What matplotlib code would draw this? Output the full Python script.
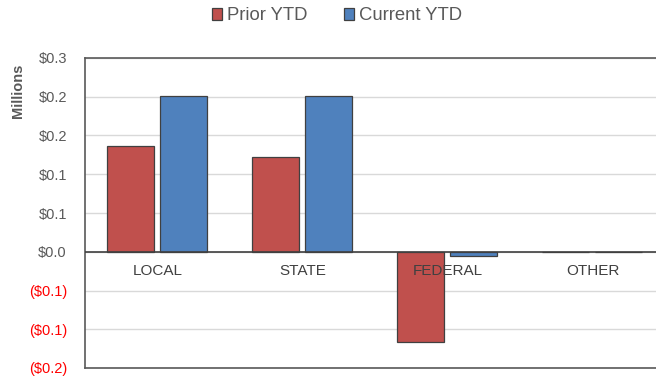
import numpy as np
import matplotlib.pyplot as plt
from matplotlib.ticker import FuncFormatter

categories = ['LOCAL', 'STATE', 'FEDERAL', 'OTHER']
prior_ytd = [0.136, 0.122, -0.117, 0.0]
current_ytd = [0.2005, 0.2015, -0.0055, 0.0]
series_names = ['Prior YTD', 'Current YTD']

red = '#C0504D'
blue = '#4F81BD'
edge = '#404040'
txt = '#595959'

fig = plt.figure(figsize=(6.56, 3.78), dpi=100)
# right edge of the plot area runs past the image border, like the original
ax = fig.add_axes([85 / 656, (378 - 368) / 378, 580 / 656, 310 / 378])

x = np.arange(len(categories))
w = 0.32
ax.bar(x - 0.186, prior_ytd, w, color=red, edgecolor=edge, linewidth=0.9,
       label=series_names[0], zorder=3)
ax.bar(x + 0.18, current_ytd, w, color=blue, edgecolor=edge, linewidth=0.9,
       label=series_names[1], zorder=3)

ax.set_xlim(-0.5, len(categories) - 0.5)
ax.set_ylim(-0.15, 0.25)
ax.set_yticks(np.arange(-0.15, 0.2501, 0.05))


def money(v, pos):
    # excel style: round half away from zero, negatives in brackets
    r = np.floor(abs(v) * 10 + 0.5 + 1e-9) / 10
    if v < -1e-9:
        return '(${:.1f})'.format(r)
    return '${:.1f}'.format(r)


ax.yaxis.set_major_formatter(FuncFormatter(money))
ax.tick_params(axis='y', length=0, labelsize=10.5, labelcolor=txt, pad=13)
for lbl, v in zip(ax.get_yticklabels(), ax.get_yticks()):
    lbl.set_family('Liberation Sans')
    if v < -1e-9:
        lbl.set_color('red')
ax.set_xticks([])

ax.grid(axis='y', color='#D9D9D9', linewidth=1, zorder=0)
ax.axhline(0, color='#404040', linewidth=1.2, zorder=4)
for s in ax.spines.values():
    s.set_color('#595959')
    s.set_linewidth(1.2)

for xi, name in zip(x, categories):
    ax.annotate(name, (xi, 0), xytext=(0, -14), textcoords='offset points',
                ha='center', va='center', fontsize=11, color='#404040',
                family='Liberation Sans', zorder=6)

fig.text(18 / 656, 1 - 91 / 378, 'Millions', rotation=90, ha='center',
         va='center', fontsize=10.5, fontweight='bold', color=txt,
         family='Liberation Sans')

leg = fig.legend(loc='center', bbox_to_anchor=(337 / 656, 1 - 16 / 378), ncol=2,
                 frameon=False, handlelength=0.55, handleheight=0.55,
                 handletextpad=0.25, columnspacing=2.0,
                 prop={'family': 'Liberation Sans', 'size': 13.3})
for t in leg.get_texts():
    t.set_color(txt)

fig.savefig('out.png', dpi=100)
